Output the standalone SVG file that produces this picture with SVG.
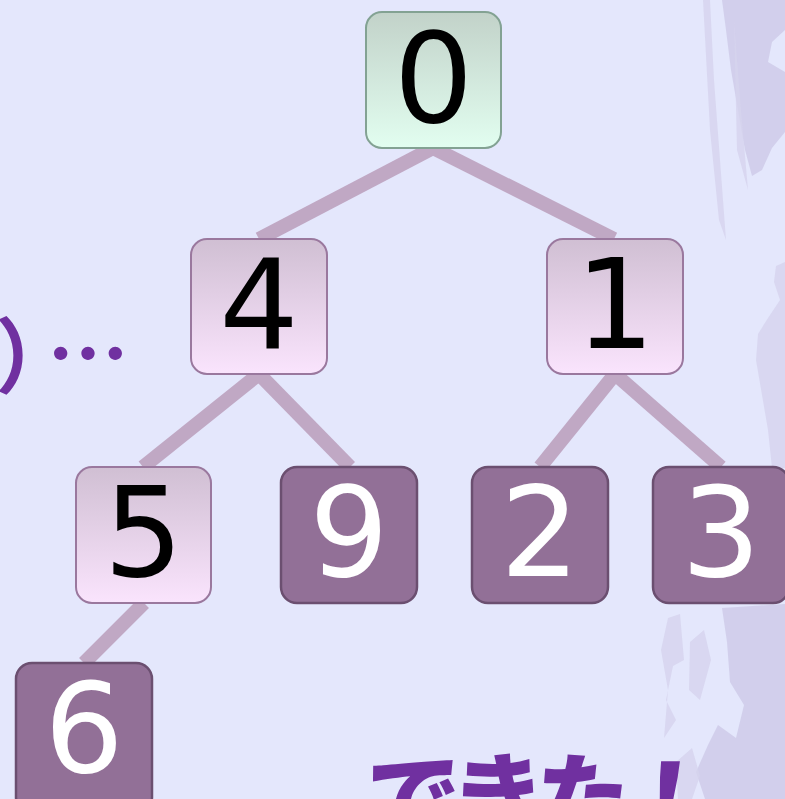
<svg xmlns="http://www.w3.org/2000/svg" width="785" height="799" viewBox="0 0 785 799">
<defs>
<linearGradient id="gGreen" x1="0" y1="0" x2="0" y2="1">
<stop offset="0" stop-color="#c2d2c9"/>
<stop offset="1" stop-color="#e2fef0"/>
</linearGradient>
<linearGradient id="gPink" x1="0" y1="0" x2="0" y2="1">
<stop offset="0" stop-color="#d0bfd3"/>
<stop offset="1" stop-color="#fae4fd"/>
</linearGradient>
</defs>
<style>
.edge{stroke:#c0a8c4;stroke-width:14;stroke-linecap:butt;fill:none}
.green{fill:url(#gGreen);stroke:#83a293;stroke-width:2}
.light{fill:url(#gPink);stroke:#9a789e;stroke-width:2}
.dark{fill:#927097;stroke:#6b4f70;stroke-width:2.5}
.num{font-family:"DejaVu Sans",sans-serif;font-size:125px;text-anchor:middle}
.bk{fill:#000}
.wh{fill:#fff}
.brush{fill:#cdc9e7;opacity:0.8}
.brush2{fill:#d6d3ee;opacity:0.8}
.purple{fill:#7030a0;font-family:"Noto Sans CJK JP",sans-serif}
</style>
<rect x="0" y="0" width="785" height="799" fill="#e4e7fc"/>
<g id="background-brush">
<path class="brush" d="M722 0 L785 0 L785 30 L772 42 L768 62 L785 72 L785 132 L772 148 L762 170 L752 176 L745 150 L738 110 L731 70 L726 30 Z"/>
<path class="brush2" d="M703 0 L710 0 L714 80 L720 160 L726 240 L719 220 L710 130 Z"/>
<path class="brush2" d="M734 20 L741 110 L748 190 L737 150 Z"/>
<path class="brush2" d="M785 262 L776 266 L774 282 L780 300 L768 318 L758 334 L756 360 L762 395 L768 430 L772 468 L785 468 Z"/>
<path class="brush" d="M722 608 L785 604 L785 799 L705 799 L696 772 L708 745 L718 725 L736 738 L744 705 L730 682 L727 642 Z"/>
<path class="brush2" d="M668 618 L680 614 L684 660 L673 666 L666 700 L676 720 L664 738 L668 690 L661 650 Z"/>
<path class="brush2" d="M690 642 L704 630 L711 660 L700 700 L689 690 Z"/>
<path class="brush2" d="M676 762 L692 748 L700 776 L692 799 L678 799 Z"/>
</g>
<g id="connectors">
<line class="edge" x1="433" y1="148" x2="259" y2="239"/>
<line class="edge" x1="433" y1="148" x2="614" y2="239"/>
<line class="edge" x1="259" y1="374" x2="143" y2="467"/>
<line class="edge" x1="259" y1="374" x2="350" y2="467"/>
<line class="edge" x1="615" y1="374" x2="540" y2="467"/>
<line class="edge" x1="615" y1="374" x2="721" y2="467"/>
<line class="edge" x1="144" y1="603" x2="84" y2="663"/>
</g>
<g id="node-0">
<rect class="green" x="366" y="12" width="135" height="136" rx="16"/>
<text class="num bk" x="433.5" y="122">0</text>
</g>
<g id="node-4">
<rect class="light" x="191" y="239" width="136" height="135" rx="16"/>
<text class="num bk" x="259" y="348">4</text>
</g>
<g id="node-1">
<rect class="light" x="547" y="239" width="136" height="135" rx="16"/>
<text class="num bk" x="615" y="348">1</text>
</g>
<g id="node-5">
<rect class="light" x="76" y="467" width="135" height="136" rx="16"/>
<text class="num bk" x="143.5" y="576">5</text>
</g>
<g id="node-9">
<rect class="dark" x="281" y="467" width="136" height="136" rx="16"/>
<text class="num wh" x="349" y="576">9</text>
</g>
<g id="node-2">
<rect class="dark" x="472" y="467" width="136" height="136" rx="16"/>
<text class="num wh" x="540" y="576">2</text>
</g>
<g id="node-3">
<rect class="dark" x="653" y="467" width="136" height="136" rx="16"/>
<text class="num wh" x="721" y="576">3</text>
</g>
<g id="node-6">
<rect class="dark" x="16" y="663" width="136" height="150" rx="16"/>
<text class="num wh" x="84" y="772">6</text>
</g>
<g id="labels">
<text class="purple" font-size="82" font-weight="700"><tspan x="-5" y="386">）</tspan><tspan x="47" y="384">…</tspan></text>
<text class="purple" x="0" y="0" font-size="96" font-weight="900" letter-spacing="-11" transform="translate(360 833) skewX(-6)">できた！</text>
</g>
</svg>
